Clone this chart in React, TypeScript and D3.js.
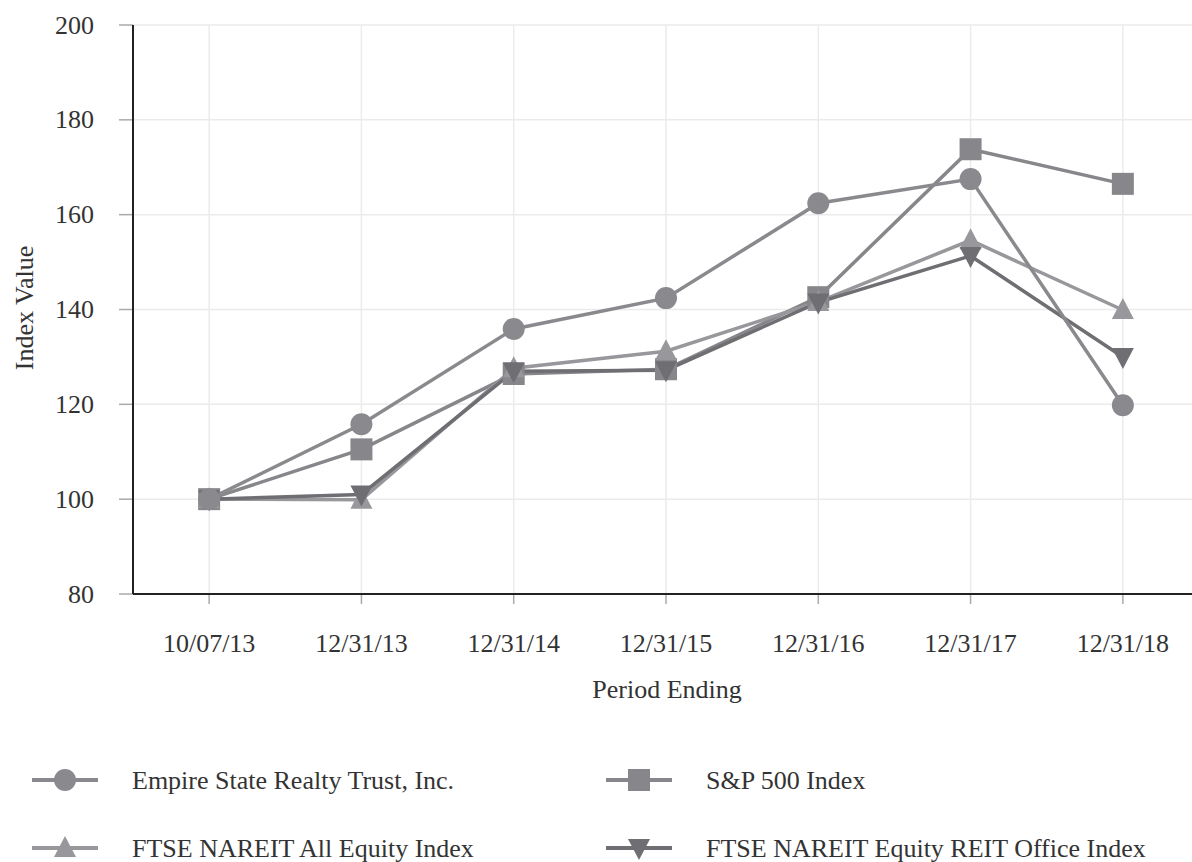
import React from "react";
import * as d3 from "d3";

const categories = ["10/07/13", "12/31/13", "12/31/14", "12/31/15", "12/31/16", "12/31/17", "12/31/18"];
const empireValues = [100, 115.8, 135.9, 142.4, 162.4, 167.5, 119.8];
const sp500Values = [100, 110.5, 126.4, 127.4, 142.6, 173.8, 166.5];
const allEquityValues = [100, 99.9, 127.6, 131.2, 141.6, 154.6, 139.9];
const officeValues = [100, 101.0, 127.0, 127.2, 141.5, 151.3, 130.0];
const yTicks = [80, 100, 120, 140, 160, 180, 200];

type Series = { name: string; values: number[]; symbol: string; color: string };

const series: Series[] = [
  { name: "S&P 500 Index", values: sp500Values, symbol: "square", color: "#87878b" },
  { name: "FTSE NAREIT All Equity Index", values: allEquityValues, symbol: "triangle", color: "#98989c" },
  { name: "FTSE NAREIT Equity REIT Office Index", values: officeValues, symbol: "down", color: "#6e6e73" },
  { name: "Empire State Realty Trust, Inc.", values: empireValues, symbol: "circle", color: "#8a8a8e" },
];

const legendOrder = [
  { s: 3, col: 0, row: 0 },
  { s: 0, col: 1, row: 0 },
  { s: 1, col: 0, row: 1 },
  { s: 2, col: 1, row: 1 },
];

function Marker({ x, y, symbol, color }: { x: number; y: number; symbol: string; color: string }) {
  if (symbol === "circle") return <circle cx={x} cy={y} r={11} fill={color} />;
  if (symbol === "square") return <rect x={x - 11} y={y - 11} width={22} height={22} fill={color} />;
  if (symbol === "triangle")
    return <path d={`M${x},${y - 12} L${x + 11},${y + 9} L${x - 11},${y + 9} Z`} fill={color} />;
  return <path d={`M${x},${y + 12} L${x + 11},${y - 9} L${x - 11},${y - 9} Z`} fill={color} />;
}

export default function App() {
  const W = 1192, H = 862;
  const left = 133, top = 25, bottom = 594;
  const x = d3.scalePoint<string>().domain(categories).range([left, 1199]).padding(0.5);
  const y = d3.scaleLinear().domain([80, 200]).range([bottom, top]);
  const line = d3
    .line<number>()
    .x((_, i) => x(categories[i]) as number)
    .y((d) => y(d));
  const font = "'Liberation Serif', 'Times New Roman', serif";
  const fs = 26;
  return (
    <div style={{ position: "absolute", left: 0, top: 0 }}>
      <svg width={W} height={H} style={{ display: "block", background: "#fff" }} fontFamily={font}>
        {/* grid */}
        {yTicks.map((t) => (
          <line key={"gy" + t} x1={left} x2={W} y1={y(t)} y2={y(t)} stroke="#ebebee" strokeWidth={1.5} />
        ))}
        {categories.map((c) => (
          <line key={"gx" + c} x1={x(c)} x2={x(c)} y1={top} y2={bottom} stroke="#ebebee" strokeWidth={1.5} />
        ))}
        {/* y ticks */}
        {yTicks.map((t) => (
          <g key={"yt" + t}>
            <line x1={119} x2={left} y1={y(t)} y2={y(t)} stroke="#aaa" strokeWidth={1.5} />
            <text x={94} y={y(t)} dy="0.33em" textAnchor="end" fontSize={fs} fill="#333">
              {t}
            </text>
          </g>
        ))}
        {/* x ticks */}
        {categories.map((c) => (
          <g key={"xt" + c}>
            <line x1={x(c)} x2={x(c)} y1={bottom} y2={bottom + 10} stroke="#aaa" strokeWidth={1.5} />
            <text x={x(c)} y={643} dy="0.33em" textAnchor="middle" fontSize={fs} fill="#333">
              {c}
            </text>
          </g>
        ))}
        {/* axes */}
        <line x1={left} x2={left} y1={top} y2={bottom} stroke="#222" strokeWidth={2} />
        <line x1={left} x2={W} y1={bottom} y2={bottom} stroke="#222" strokeWidth={2} />
        <text transform={`translate(24,308) rotate(-90)`} textAnchor="middle" dy="0.33em" fontSize={fs} fill="#333">
          Index Value
        </text>
        <text x={667} y={689} dy="0.33em" textAnchor="middle" fontSize={fs} fill="#333">
          Period Ending
        </text>
        {/* series */}
        {series.map((s) => (
          <path key={"l" + s.name} d={line(s.values) || ""} fill="none" stroke={s.color} strokeWidth={3.5} />
        ))}
        {series.map((s) =>
          s.values.map((v, i) => (
            <Marker key={s.name + i} x={x(categories[i]) as number} y={y(v)} symbol={s.symbol} color={s.color} />
          ))
        )}
        {/* legend */}
        {legendOrder.map(({ s, col, row }) => {
          const ser = series[s];
          const lx = col === 0 ? 32 : 606;
          const ly = row === 0 ? 780 : 848;
          return (
            <g key={"lg" + s}>
              <line x1={lx} x2={lx + 66} y1={ly} y2={ly} stroke={ser.color} strokeWidth={4} />
              <Marker x={lx + 33} y={ly} symbol={ser.symbol} color={ser.color} />
              <text x={lx + 100} y={ly} dy="0.33em" fontSize={fs} fill="#333">
                {ser.name}
              </text>
            </g>
          );
        })}
      </svg>
    </div>
  );
}
